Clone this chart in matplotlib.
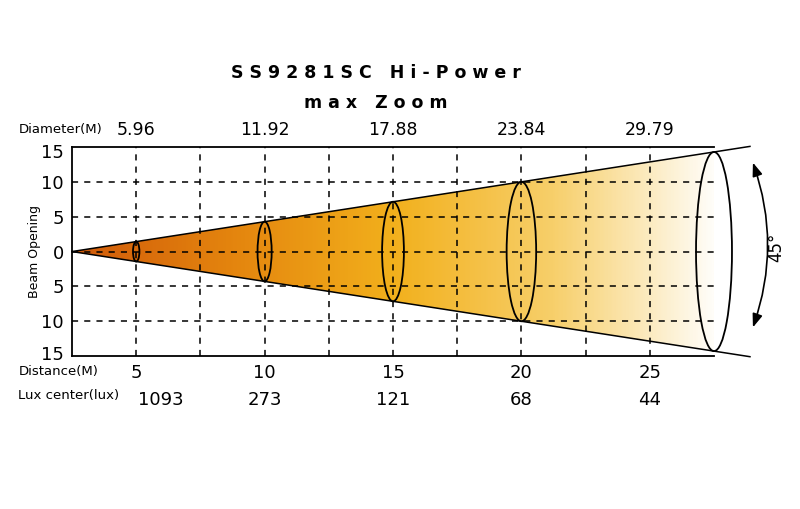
import numpy as np
import matplotlib.pyplot as plt
from matplotlib.colors import LinearSegmentedColormap
from matplotlib.patches import Ellipse, Polygon, FancyArrowPatch

distances = [5, 10, 15, 20, 25]
diameters = ["5.96", "11.92", "17.88", "23.84", "29.79"]
lux = [1093, 273, 121, 68, 44]
ytick_labels = ["15", "10", "5", "0", "5", "10", "15"]
ellipse_pos = [1, 3, 5, 7, 10]
ellipse_w = [0.1, 0.22, 0.34, 0.46, 0.56]
slope = 1.43

fig = plt.figure(figsize=(8, 5.09), dpi=100)
ax = fig.add_axes([0.09, 0.3006, 0.8025, 0.4104])
ax.set_xlim(0, 10)
ax.set_ylim(-15, 15)

cmap = LinearSegmentedColormap.from_list("b", ["#d05a0a", "#e4850e", "#f2b01c", "#f7cf6a", "#fffdf8"])
grad = np.linspace(0, 1, 400).reshape(1, -1)
im = ax.imshow(grad, cmap=cmap, extent=[0, 10, -15, 15], aspect="auto", zorder=1)
cone = Polygon([[0, 0], [10, slope * 10], [10, -slope * 10]], closed=True, transform=ax.transData)
im.set_clip_path(cone)

for x in range(1, 10):
    ax.axvline(x, color="black", ls=(0, (4, 4)), lw=1.1, zorder=3)
for y in [-10, -5, 0, 5, 10]:
    ax.axhline(y, color="black", ls=(0, (4, 4)), lw=1.1, zorder=3)

xe = 10.56
ax.plot([0, xe], [0, slope * xe], color="black", lw=1.1, clip_on=False, zorder=4)
ax.plot([0, xe], [0, -slope * xe], color="black", lw=1.1, clip_on=False, zorder=4)
for p, w in zip(ellipse_pos, ellipse_w):
    ax.add_patch(Ellipse((p, 0), w, 2 * slope * p, fill=False, ec="black", lw=1.3, zorder=5, clip_on=False))

for s in ["top", "bottom", "left"]:
    ax.spines[s].set_linewidth(1.3)
ax.spines["right"].set_visible(False)
ax.set_xticks([])
ax.set_yticks([14.5, 10, 5, 0, -5, -10, -14.5])
ax.set_yticklabels(ytick_labels, fontsize=13)
ax.tick_params(axis="y", length=0, pad=6)
ax.set_ylabel("Beam Opening", fontsize=9, labelpad=0)

arr = FancyArrowPatch((752 / 800, 1 - 160 / 509), (752 / 800, 1 - 330 / 509),
                      connectionstyle="arc3,rad=-0.18",
                      arrowstyle="<|-|>,head_length=8,head_width=3", color="black", lw=1.2,
                      transform=fig.transFigure, clip_on=False)
fig.add_artist(arr)
fig.text(776 / 800, 1 - 247 / 509, "45°", rotation=90, fontsize=12, va="center", ha="center")

idx = [1, 3, 5, 7, 9]
for k, (i, d, dm, lx) in enumerate(zip(idx, distances, diameters, lux)):
    ax.text(i, 16.1, dm, ha="center", va="bottom", fontsize=12.5)
    ax.text(i, -16.2, str(d), ha="center", va="top", fontsize=13)
    ax.text(i + (0.38 if k == 0 else 0), -20.0, str(lx), ha="center", va="top", fontsize=13)

fig.text(0.023, 1 - 130 / 509, "Diameter(M)", fontsize=9.5, va="center")
fig.text(0.023, 1 - 372 / 509, "Distance(M)", fontsize=9.5, va="center")
fig.text(0.023, 1 - 396 / 509, "Lux center(lux)", fontsize=9.5, va="center")

fig.text(0.47, 1 - 73 / 509, "S S 9 2 8 1 S C   H i - P o w e r", fontsize=12.5, fontweight="bold", ha="center", va="center")
fig.text(0.47, 1 - 103 / 509, "m a x   Z o o m", fontsize=12.5, fontweight="bold", ha="center", va="center")

fig.savefig("out.png", dpi=100)
